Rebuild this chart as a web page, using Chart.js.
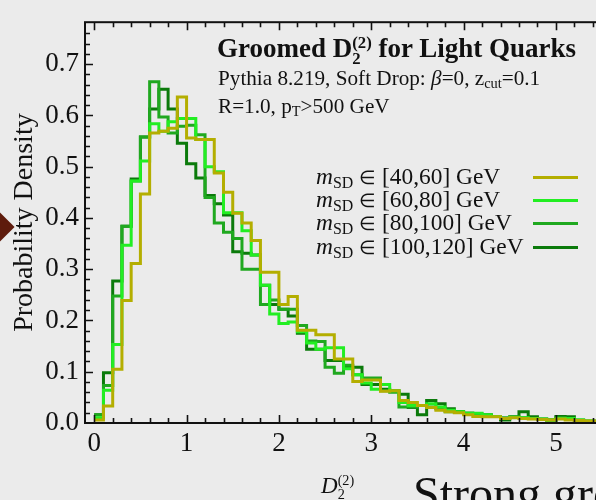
<!DOCTYPE html>
<html lang="en">
<head>
<meta charset="UTF-8">
<title>Groomed D2 for Light Quarks</title>
<script src="https://cdn.jsdelivr.net/npm/chart.js"></script>
<style>
  body {
    margin: 0;
    background: #ebebeb;
    overflow: hidden;
    font-family: "Liberation Serif", "Times New Roman", serif;
    color: #111;
  }
  #wrap { position: relative; width: 660px; height: 500px; }
  #plot { position: absolute; left: 0; top: 0; }
  .txt { position: absolute; white-space: nowrap; line-height: 1; }
  .stack {
    display: inline-block;
    font-size: 0.62em;
    line-height: 0.95;
    vertical-align: -0.42em;
    text-align: left;
  }
  .sub { font-size: 0.68em; vertical-align: -0.22em; }
  .elem { font-size: 0.82em; }
  #legend { position: absolute; left: 316px; top: 165px; }
  .row { position: relative; height: 23.2px; font-size: 23.4px; line-height: 23px; white-space: nowrap; }
  .row .swatch { position: absolute; left: 217px; top: 11px; width: 45px; height: 3px; }
  .bullet {
    position: absolute; left: -12px; top: 216px; width: 22px; height: 22px;
    background: #5e1b0c; transform: rotate(45deg);
  }
</style>
</head>
<body>
<div id="wrap">
  <canvas id="plot" width="660" height="500"></canvas>

  <div class="txt" style="left:217px; top:35px; font-size:27px; font-weight:bold;">Groomed D<span class="stack">(2)<br>2</span> for Light Quarks</div>
  <div class="txt" style="left:218px; top:68px; font-size:21.2px;">Pythia 8.219, Soft Drop: <i>&beta;</i>=0, z<span class="sub">cut</span>=0.1</div>
  <div class="txt" style="left:218px; top:96px; font-size:21.2px;">R=1.0, p<span class="sub">T</span>&gt;500 GeV</div>

  <div id="legend"></div>

  <div class="txt" style="left:321px; top:474px; font-size:23px;"><i>D</i><span class="stack">(2)<br>2</span></div>
  <div class="txt" style="left:413px; top:470px; font-size:48px; line-height:48px;">Strong grooming</div>
  <div class="bullet"></div>
</div>

<script>
// histogram bins: 0.1 wide, starting at D2 = 0
const binWidth = 0.1;

// soft-drop mass windows (GeV)
const massLow = [40, 60, 80, 100];
const massHigh = [60, 80, 100, 120];
const colors = ['#b4ae00', '#22ee22', '#1fa81f', '#0b7a0b'];

// axis ticks: major labels and the minor step between them
const xMajor = [0, 1, 2, 3, 4, 5, 6];
const xMinorStep = 0.2;
const yMajor = [0.0, 0.1, 0.2, 0.3, 0.4, 0.5, 0.6, 0.7];
const yMinorStep = 0.02;

// probability density per bin
const m40_60 = [0.006, 0.033, 0.105, 0.239, 0.311, 0.447, 0.566, 0.569, 0.575, 0.636,
  0.556, 0.553, 0.553, 0.488, 0.450, 0.409, 0.390, 0.356, 0.294, 0.294,
  0.231, 0.247, 0.181, 0.181, 0.172, 0.172, 0.125, 0.125, 0.081, 0.084,
  0.084, 0.062, 0.063, 0.044, 0.040, 0.034, 0.030, 0.025, 0.022, 0.020,
  0.016, 0.0125, 0.012, 0.012, 0.009, 0.010, 0.009, 0.008, 0.007, 0.006,
  0.008, 0.006, 0.005, 0.004, 0.004, 0.003];
const m60_80 = [0.010, 0.064, 0.153, 0.347, 0.472, 0.511, 0.584, 0.569, 0.588, 0.594,
  0.594, 0.553, 0.500, 0.490, 0.410, 0.410, 0.375, 0.328, 0.269, 0.2125,
  0.194, 0.197, 0.178, 0.156, 0.144, 0.147, 0.147, 0.106, 0.094, 0.078,
  0.066, 0.075, 0.063, 0.040, 0.034, 0.034, 0.0375, 0.031, 0.025, 0.022,
  0.019, 0.019, 0.016, 0.0125, 0.009, 0.011, 0.010, 0.009, 0.008, 0.006,
  0.009, 0.009, 0.006, 0.004, 0.004, 0.003];
const m80_100 = [0.016, 0.073, 0.248, 0.384, 0.472, 0.558, 0.666, 0.597, 0.566, 0.579,
  0.581, 0.5625, 0.440, 0.390, 0.372, 0.360, 0.300, 0.300, 0.231, 0.240,
  0.222, 0.222, 0.190, 0.160, 0.159, 0.109, 0.097, 0.1125, 0.094, 0.088,
  0.088, 0.063, 0.060, 0.031, 0.031, 0.034, 0.031, 0.028, 0.022, 0.022,
  0.019, 0.017, 0.015, 0.0125, 0.010, 0.011, 0.010, 0.009, 0.007, 0.006,
  0.010, 0.009, 0.006, 0.004, 0.003, 0.003];
const m100_120 = [0.016, 0.098, 0.277, 0.384, 0.476, 0.558, 0.6125, 0.651, 0.6125, 0.546,
  0.506, 0.478, 0.444, 0.428, 0.406, 0.334, 0.331, 0.328, 0.269, 0.231,
  0.222, 0.209, 0.175, 0.144, 0.144, 0.122, 0.122, 0.109, 0.109, 0.075,
  0.075, 0.066, 0.063, 0.056, 0.030, 0.016, 0.044, 0.0375, 0.028, 0.022,
  0.019, 0.017, 0.016, 0.0125, 0.006, 0.012, 0.022, 0.012, 0.008, 0.006,
  0.0125, 0.012, 0.005, 0.003, 0.003, 0.003];

const series = [m40_60, m60_80, m80_100, m100_120];

// one point per bin's left edge, plus the closing edge of the last bin
function toSteps(vals) {
  const pts = vals.map((v, i) => ({ x: i * binWidth, y: v }));
  pts.push({ x: vals.length * binWidth, y: vals[vals.length - 1] });
  return pts;
}

const isMajor = (v, majors) => majors.some(m => Math.abs(v - m) < 1e-6);

// tick list between the first and last major value
function tickList(majors, step) {
  const out = [];
  const first = majors[0], last = majors[majors.length - 1];
  const n = Math.round((last - first) / step);
  for (let i = 0; i <= n; i++) out.push({ value: +(first + i * step).toFixed(4) });
  return out;
}

// frame with inward-pointing ticks on every side
const frameTicks = {
  id: 'frameTicks',
  afterDraw(chart) {
    const { ctx, chartArea: a, scales: { x, y } } = chart;
    ctx.save();
    ctx.strokeStyle = '#111';
    ctx.lineWidth = 1.6;
    ctx.beginPath();
    x.ticks.forEach(t => {
      const px = Math.round(x.getPixelForValue(t.value)) + 0.5;
      if (px <= a.left + 2 || px >= a.right - 2) return;
      const len = isMajor(t.value, xMajor) ? 8 : 5;
      ctx.moveTo(px, a.bottom); ctx.lineTo(px, a.bottom - len);
      ctx.moveTo(px, a.top); ctx.lineTo(px, a.top + len);
    });
    y.ticks.forEach(t => {
      const py = Math.round(y.getPixelForValue(t.value)) + 0.5;
      if (py <= a.top + 2 || py >= a.bottom - 2) return;
      const len = isMajor(t.value, yMajor) ? 8 : 5;
      ctx.moveTo(a.left, py); ctx.lineTo(a.left + len, py);
      ctx.moveTo(a.right, py); ctx.lineTo(a.right - len, py);
    });
    ctx.stroke();
    ctx.lineWidth = 2;
    ctx.strokeRect(a.left, a.top, a.right - a.left, a.bottom - a.top);
    ctx.restore();
  }
};

const tickFont = { family: '"Liberation Serif", serif', size: 27 };

const chart = new Chart(document.getElementById('plot'), {
  type: 'line',
  data: {
    datasets: series.map((vals, i) => ({
      label: 'mSD in [' + massLow[i] + ',' + massHigh[i] + '] GeV',
      data: toSteps(vals),
      stepped: 'before',
      borderColor: colors[i],
      borderWidth: 3,
      pointRadius: 0,
      fill: false
    }))
  },
  options: {
    responsive: false,
    animation: false,
    layout: { padding: { top: 8, right: 4, left: 0, bottom: 0 } },
    plugins: { legend: { display: false }, tooltip: { enabled: false } },
    scales: {
      x: {
        type: 'linear',
        min: -0.1,
        max: 6.0,
        grid: { display: false, drawTicks: false },
        border: { display: false },
        afterBuildTicks: s => { s.ticks = tickList(xMajor, xMinorStep); },
        ticks: {
          autoSkip: false,
          maxRotation: 0,
          padding: 5,
          color: '#111',
          font: tickFont,
          callback: v => isMajor(v, xMajor) ? String(Math.round(v)) : ''
        },
        afterFit: s => { s.height = 77; }
      },
      y: {
        min: 0,
        max: 0.782,
        grid: { display: false, drawTicks: false },
        border: { display: false },
        afterBuildTicks: s => { s.ticks = tickList([0, 0.78], yMinorStep); },
        ticks: {
          autoSkip: false,
          padding: 6,
          color: '#111',
          font: tickFont,
          callback: v => isMajor(v, yMajor) ? v.toFixed(1) : ''
        },
        title: {
          display: true,
          text: 'Probability Density',
          color: '#111',
          font: { family: '"Liberation Serif", serif', size: 28 },
          padding: { top: 8, bottom: 0 }
        },
        afterFit: s => { s.width = 85; }
      }
    }
  },
  plugins: [frameTicks]
});

// legend rows: label on the left, line sample on the right
const legend = document.getElementById('legend');
chart.data.datasets.forEach((ds, i) => {
  const row = document.createElement('div');
  row.className = 'row';
  row.innerHTML = '<i>m</i><span class="sub">SD</span> <span class="elem">&isin;</span> [' + massLow[i] + ',' + massHigh[i] + '] GeV' +
    '<span class="swatch" style="background:' + ds.borderColor + '"></span>';
  legend.appendChild(row);
});
</script>
</body>
</html>
